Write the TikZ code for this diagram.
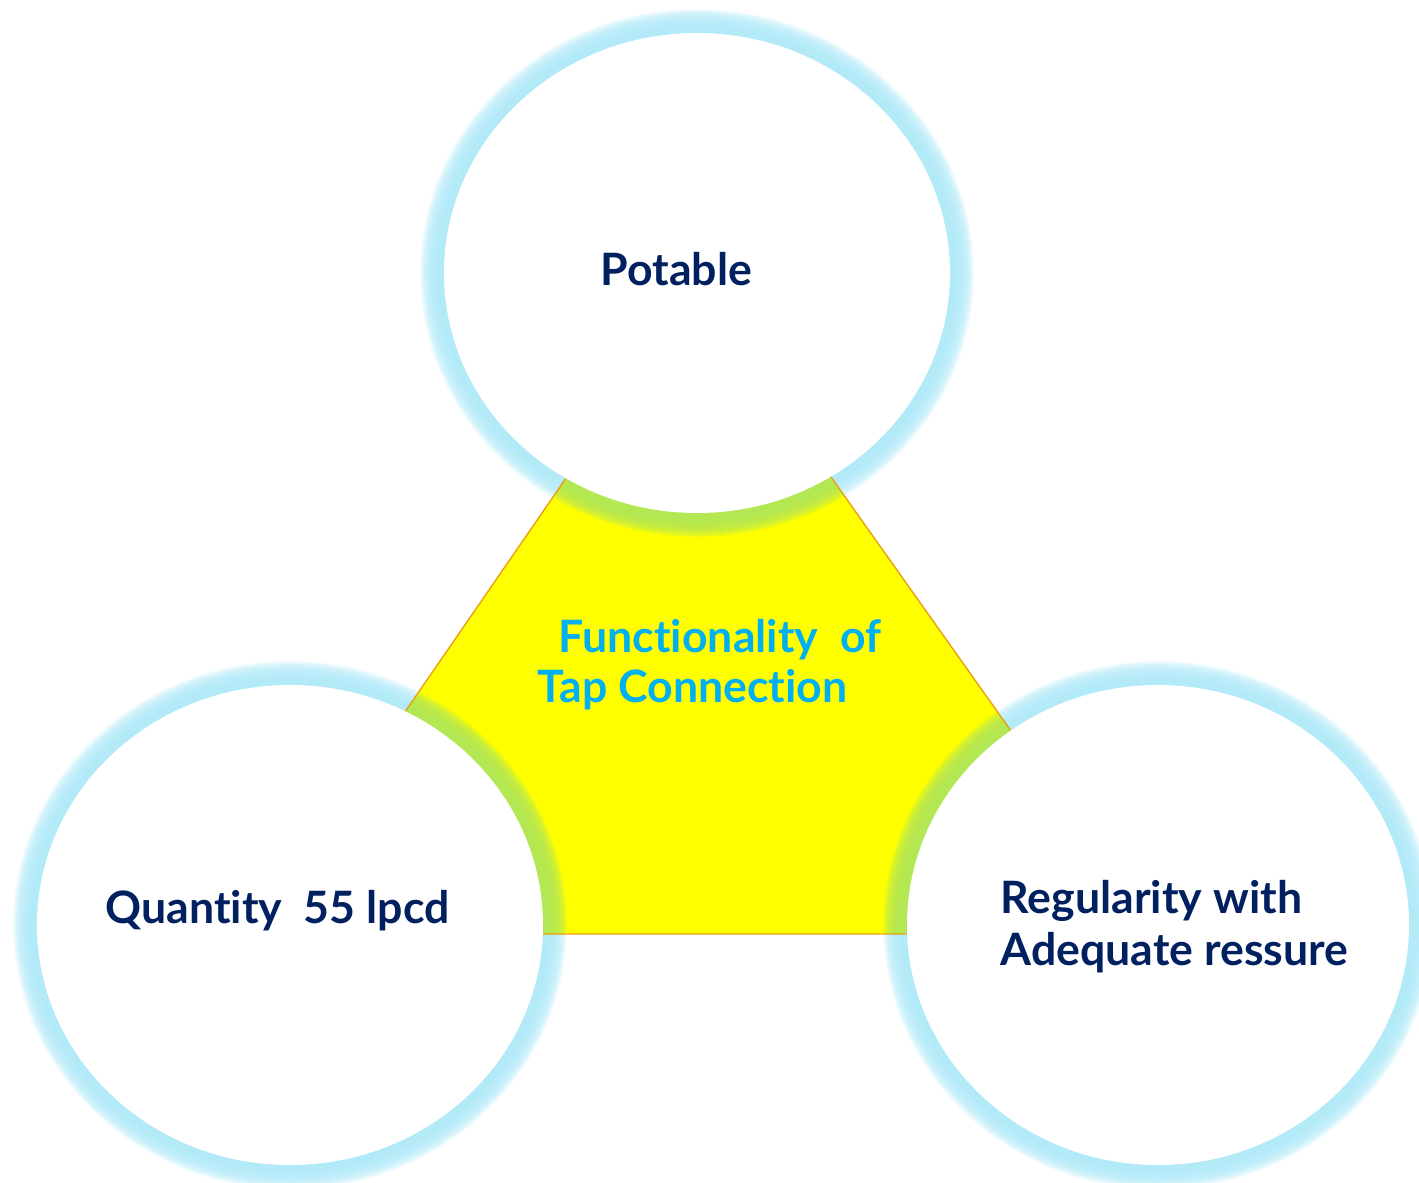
\documentclass[tikz,border=0pt]{standalone}
\usepackage{fontspec}
\setsansfont{Lato}[Ligatures=NoCommon]
\definecolor{navytext}{RGB}{0,32,96}
\definecolor{cyantext}{RGB}{0,176,240}
\definecolor{glowblue}{RGB}{176,233,248}
\definecolor{glowgreen}{RGB}{179,232,90}
\definecolor{tapyellow}{RGB}{255,255,0}
\definecolor{edgeorange}{RGB}{235,160,20}
\tikzset{
  circlabel/.style={anchor=base west,inner sep=0pt,text=navytext,font=\sffamily\bfseries\fontsize{12.7}{15}\selectfont,align=left},
  centrelabel/.style={anchor=base west,inner sep=0pt,text=cyantext,font=\sffamily\bfseries\fontsize{12.7}{15}\selectfont}
}

\begin{document}
\begin{tikzpicture}
                    \useasboundingbox (0,0) rectangle (14.19,11.82);
                    % soft blue halo round each circle
                    \foreach \cx/\cy/\rx in {6.97/9.09/2.53, 2.90/2.57/2.53, 11.58/2.57/2.51}
                        \foreach \k in {0,...,23}
                            \fill[glowblue,opacity=0.15] (\cx,\cy) ellipse ({\rx+0.24-0.01*\k} and {2.64-0.01*\k});
                    \begin{scope}
                        \clip (6.97,8.94)--(2.52,2.48)--(11.55,2.48)--cycle;
                        \fill[tapyellow] (6.97,8.94)--(2.52,2.48)--(11.55,2.48)--cycle;
                        \foreach \cx/\cy/\rx in {6.97/9.09/2.53, 2.90/2.57/2.53, 11.58/2.57/2.51}
                            \foreach \k in {0,...,23}
                                \fill[glowgreen,opacity=0.15] (\cx,\cy) ellipse ({\rx+0.24-0.01*\k} and {2.64-0.01*\k});
                    \end{scope}
                    \draw[edgeorange,line width=0.4pt] (6.97,8.94)--(2.52,2.48)--(11.55,2.48)--cycle;
                    \fill[white] (6.97,9.09) ellipse (2.53 and 2.40);
                    \fill[white] (2.90,2.57) ellipse (2.53 and 2.40);
                    \fill[white] (11.58,2.57) ellipse (2.51 and 2.40);
                    \node[circlabel] (potable) at (6.00,8.97) {Potable};
                    \node[circlabel] (quantity) at (1.05,2.59) {Quantity\ \ 55 lpcd};
                    \node[circlabel] (regularity) at (10.00,2.69) {Regularity with};
                    \node[circlabel] (pressure) at (10.00,2.17) {Adequate ressure};
                    \node[centrelabel] (functionality) at (5.58,5.30) {Functionality\ \ of};
                    \node[centrelabel] (tapconn) at (5.37,4.80) {Tap Connection};
                \end{tikzpicture}
\end{document}
